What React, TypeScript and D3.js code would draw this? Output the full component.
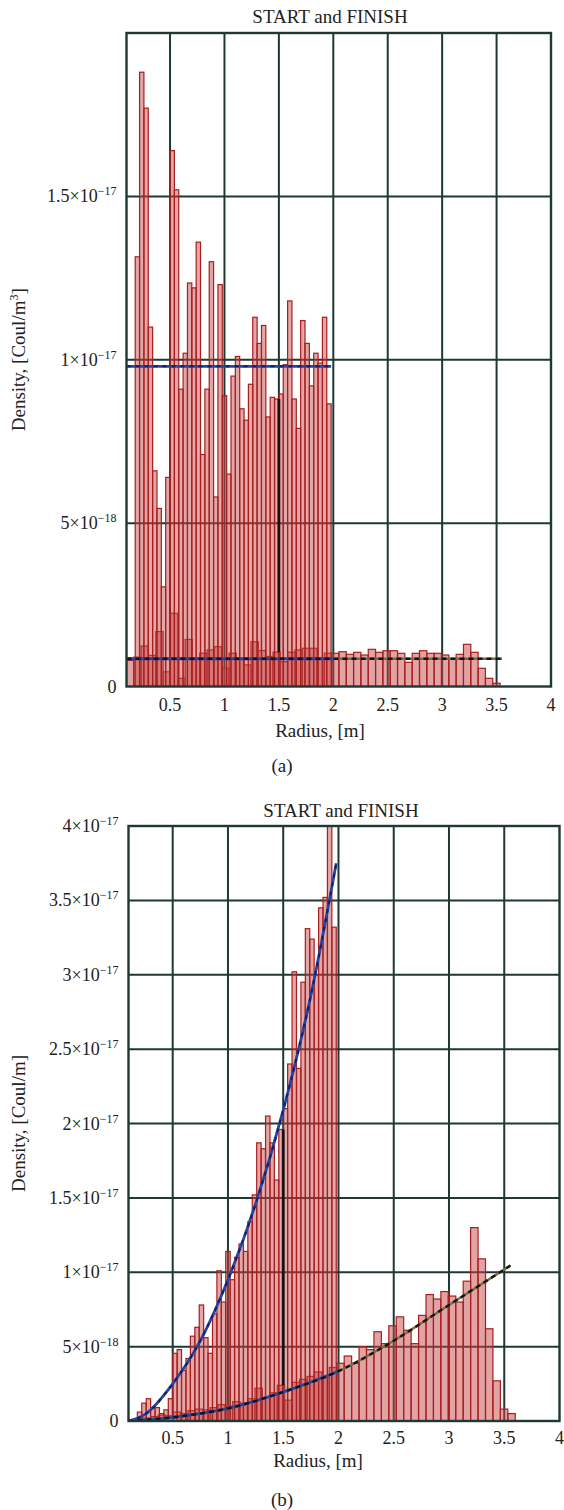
import React from 'react';
import * as d3 from 'd3';

// ---------------- data ----------------
const UNIT = 1e-18; // values below are in units of 10^-18

const xTickValues = [0.5, 1, 1.5, 2, 2.5, 3, 3.5, 4];
const xTickLabels = ['0.5', '1', '1.5', '2', '2.5', '3', '3.5', '4'];

const yTickValuesA = [0, 5, 10, 15];
const yTickMantissaA = ['0', '5×10', '1×10', '1.5×10'];
const yTickExponentA = ['', '−18', '−17', '−17'];

const yTickValuesB = [0, 5, 10, 15, 20, 25, 30, 35, 40];
const yTickMantissaB = ['0', '5×10', '1×10', '1.5×10', '2×10', '2.5×10', '3×10', '3.5×10', '4×10'];
const yTickExponentB = ['', '−18', '−17', '−17', '−17', '−17', '−17', '−17', '−17'];

// histogram bins
const startBinStart = 0.18;
const startBinWidth = 0.04;
const finishBinStart = 0.1;
const finishBinWidth = 0.0673;

// panel (a): START histogram (45 bins) and FINISH histogram (52 bins)
const startDensityA = [13.15, 18.8, 17.7, 11.0, 6.6, 5.45, 3.05, 6.4,
  16.4, 15.2, 9.1, 10.2, 12.35, 12.2, 13.6, 7.1, 9.1, 13.0,
  5.8, 12.3, 8.9, 6.5, 9.5, 10.1, 8.5, 8.15, 9.25, 11.3,
  10.5, 11.05, 8.25, 8.85, 8.8, 8.95, 9.85, 11.8, 8.8, 7.9,
  11.2, 10.5, 9.2, 10.2, 9.9, 11.3, 8.65];
const finishDensityA = [0.8, 0.9, 1.24, 0.95, 1.68, 0.45, 2.24, 0.25, 1.44, 0.86,
  1.02, 1.12, 1.22, 0.56, 1.02, 0.86, 0.66, 1.37, 1.1, 0.92,
  1.05, 0.76, 1.05, 1.12, 1.17, 1.17, 0.86, 1.02,
  1.016, 1.065, 0.985, 1.046, 0.964, 1.138, 1.046, 1.095, 1.095, 1.016,
  0.74, 1.016, 1.095, 1.016, 1.016, 0.964, 0.832, 0.985, 1.29, 1.046,
  0.557, 0.251, 0.098, 0];

// panel (b)
const startDensityB = [0.6, 1.2, 1.5, 0.9, 0.9, 0.5, 0.75, 1.5,
  4.55, 4.8, 3.4, 4.2, 5.7, 6.3, 7.8, 5.6, 4.55, 7.2, 10.1, 8.0,
  11.4, 9.5, 11.0, 11.9, 11.4, 13.4, 15.2, 18.7, 18.3, 20.5, 18.7, 16.2,
  19.6, 21.0, 24.0, 30.2, 23.7, 29.5, 33.1, 32.4, 30.0, 34.5, 35.2, 40.5, 33.2];
const finishDensityB = [0.1, 0.15, 0.2, 0.3, 0.4, 0.35, 0.6, 0.5, 0.7, 0.8,
  0.75, 0.9, 1.1, 1.0, 1.3, 1.2, 1.5, 2.2, 1.6, 1.9,
  2.4, 1.4, 2.6, 2.8, 3.0, 3.3, 2.9, 3.6,
  3.88, 4.37, 3.88, 5.0, 4.8, 6.0, 5.2, 6.4, 7.0, 6.1,
  5.2, 7.1, 8.5, 8.2, 8.7, 8.4, 8.0, 9.4, 13.0, 10.9,
  6.2, 2.7, 0.8, 0.5];

// theoretical curves
const startCurveXA = [0.1, 1.98];
const startCurveYA = [9.8, 9.8];
const finishCurveXA = [0.1, 2.0, 3.55];
const finishCurveYA = [0.85, 0.85, 0.85];

const startCurveXB = [0.1, 0.25, 0.5, 0.75, 1.0, 1.25, 1.5, 1.75, 1.98];
const startCurveYB = [0, 0.45, 2.5, 5.4, 9.5, 14.6, 20.9, 28.6, 37.5];
const finishCurveXB = [0.1, 0.5, 1.0, 1.5, 2.0, 2.5, 3.0, 3.556];
const finishCurveYB = [0, 0.25, 0.85, 1.95, 3.35, 5.4, 7.8, 10.45];

const gapX = 1.5;

// ---------------- drawing ----------------
const SERIF = '"Liberation Serif", "Times New Roman", serif';
const GRID = '#1e3834';
const BAR_FILL = 'rgb(196,72,72)';
const BAR_STROKE = '#a81e1e';

type PanelProps = {
  id: string;
  left: number; right: number; top: number; bottom: number;
  yMax: number;
  yTicks: number[]; yMant: string[]; yExp: string[];
  start: number[]; finish: number[];
  sCx: number[]; sCy: number[]; fCx: number[]; fCy: number[];
  title: string; titleX: number; titleY: number;
  tickY: number; xTitleX: number; xTitleY: number;
  tag: string; tagY: number; yTitle: string; yUnitSup: string;
};

function Panel(p: PanelProps) {
  const x = d3.scaleLinear().domain([0.1, 4]).range([p.left, p.right]);
  const y = d3.scaleLinear().domain([0, p.yMax * UNIT]).range([p.bottom, p.top]);
  const startBins = p.start.map((v, i) => ({ x0: startBinStart + i * startBinWidth, x1: startBinStart + (i + 1) * startBinWidth, v: v * UNIT }));
  const finishBins = p.finish.map((v, i) => ({ x0: finishBinStart + i * finishBinWidth, x1: finishBinStart + (i + 1) * finishBinWidth, v: v * UNIT }));
  const line = d3.line<[number, number]>().x(d => x(d[0])).y(d => y(d[1] * UNIT)).curve(d3.curveMonotoneX);
  const sPts: [number, number][] = p.sCx.map((v, i) => [v, p.sCy[i]]);
  const fPts: [number, number][] = p.fCx.map((v, i) => [v, p.fCy[i]]);
  const startEnd = startBinStart + p.start.length * startBinWidth;
  const fBlue = fPts.filter(d => d[0] <= startEnd + 0.03);

  const gi = startBins.findIndex(b => Math.abs(b.x0 - gapX) < 1e-6);
  const gapTop = gi > 0 ? Math.min(startBins[gi - 1].v, startBins[gi].v) : 0;
  const fb = finishBins.find(b => b.x0 <= gapX && b.x1 > gapX);
  const gapBottom = fb ? fb.v : 0;

  const gridX = xTickValues.filter(v => v < 4);
  const gridY = p.yTicks.filter(v => v > 0 && v < p.yMax);
  const clipId = 'clip-' + p.id;
  const plotCy = (p.top + p.bottom) / 2;

  return (
    <g>
      <defs>
        <clipPath id={clipId}>
          <rect x={p.left} y={p.top} width={p.right - p.left} height={p.bottom - p.top} />
        </clipPath>
      </defs>
      <rect x={p.left} y={p.top} width={p.right - p.left} height={p.bottom - p.top} fill="#fff" />
      {gridX.map(v => (
        <line key={'gx' + v} x1={x(v)} x2={x(v)} y1={p.top} y2={p.bottom} stroke={GRID} strokeWidth={2} />
      ))}
      {gridY.map(v => (
        <line key={'gy' + v} x1={p.left} x2={p.right} y1={y(v * UNIT)} y2={y(v * UNIT)} stroke={GRID} strokeWidth={2} />
      ))}
      <g clipPath={`url(#${clipId})`}>
        {finishBins.filter(b => b.v > 0).map((b, i) => (
          <rect key={'f' + i} x={x(b.x0)} width={x(b.x1) - x(b.x0)} y={y(b.v)} height={p.bottom - y(b.v)}
            fill={BAR_FILL} fillOpacity={0.5} stroke={BAR_STROKE} strokeWidth={1.2} />
        ))}
        {startBins.map((b, i) => (
          <rect key={'s' + i} x={x(b.x0)} width={x(b.x1) - x(b.x0)} y={y(b.v)} height={p.bottom - y(b.v)}
            fill={BAR_FILL} fillOpacity={0.48} stroke={BAR_STROKE} strokeWidth={1.2} />
        ))}
        {gi > 0 && (
          <line x1={x(gapX)} x2={x(gapX)} y1={y(gapTop)} y2={y(gapBottom)} stroke="#1a1010" strokeWidth={2.8} />
        )}
        <path d={line(fPts) || ''} fill="none" stroke="#7d6c3e" strokeWidth={2.4} />
        <path d={line(fBlue) || ''} fill="none" stroke="#2545a5" strokeWidth={2.8} />
        <path d={line(fPts) || ''} fill="none" stroke="#141414" strokeWidth={2.4} strokeDasharray="5 4" />
        <path d={line(sPts) || ''} fill="none" stroke="#2545a5" strokeWidth={2.8} />
        <path d={line(sPts) || ''} fill="none" stroke="#10215e" strokeWidth={2} strokeDasharray="4 5" />
      </g>
      <rect x={p.left} y={p.top} width={p.right - p.left} height={p.bottom - p.top} fill="none" stroke={GRID} strokeWidth={2.4} />

      {p.yTicks.map((v, i) => (
        <text key={'yl' + v} x={p.left - 10} y={y(v * UNIT) + 6} textAnchor="end" fontFamily={SERIF} fontSize={18} fill="#222">
          {p.yMant[i]}
          {p.yExp[i] ? <tspan dy={-7} fontSize={12}>{p.yExp[i]}</tspan> : null}
        </text>
      ))}
      {xTickValues.map((v, i) => (
        <text key={'xl' + v} x={x(v)} y={p.tickY} textAnchor="middle" fontFamily={SERIF} fontSize={18} fill="#222">{xTickLabels[i]}</text>
      ))}
      <text x={p.xTitleX} y={p.xTitleY} textAnchor="middle" fontFamily={SERIF} fontSize={19} fill="#222">Radius, [m]</text>
      <text x={p.titleX} y={p.titleY} textAnchor="middle" fontFamily={SERIF} fontSize={19} fill="#222">{p.title}</text>
      <text transform={`translate(25,${plotCy}) rotate(-90)`} textAnchor="middle" fontFamily={SERIF} fontSize={19} fill="#222">
        {p.yTitle}
        {p.yUnitSup ? <tspan dy={-7} fontSize={12}>{p.yUnitSup}</tspan> : null}
        {p.yUnitSup ? <tspan dy={7}>]</tspan> : null}
      </text>
      <text x={282} y={p.tagY} textAnchor="middle" fontFamily={SERIF} fontSize={19} fill="#222">{p.tag}</text>
    </g>
  );
}

export default function App() {
  return (
    <svg width={564} height={1510} viewBox="0 0 564 1510" style={{ position: 'absolute', left: 0, top: 0, background: '#fff' }}>
      <rect x={0} y={0} width={564} height={1510} fill="#fff" />
      <Panel id="a" left={126.5} right={551} top={33} bottom={686.5} yMax={20}
        yTicks={yTickValuesA} yMant={yTickMantissaA} yExp={yTickExponentA}
        start={startDensityA} finish={finishDensityA}
        sCx={startCurveXA} sCy={startCurveYA} fCx={finishCurveXA} fCy={finishCurveYA}
        title="START and FINISH" titleX={330} titleY={23}
        tickY={711} xTitleX={320} xTitleY={737}
        tag="(a)" tagY={772} yTitle="Density, [Coul/m" yUnitSup="3" />
      <Panel id="b" left={128.5} right={559.5} top={826} bottom={1421} yMax={40}
        yTicks={yTickValuesB} yMant={yTickMantissaB} yExp={yTickExponentB}
        start={startDensityB} finish={finishDensityB}
        sCx={startCurveXB} sCy={startCurveYB} fCx={finishCurveXB} fCy={finishCurveYB}
        title="START and FINISH" titleX={341} titleY={817}
        tickY={1444} xTitleX={318} xTitleY={1467}
        tag="(b)" tagY={1506} yTitle="Density, [Coul/m]" yUnitSup="" />
    </svg>
  );
}
